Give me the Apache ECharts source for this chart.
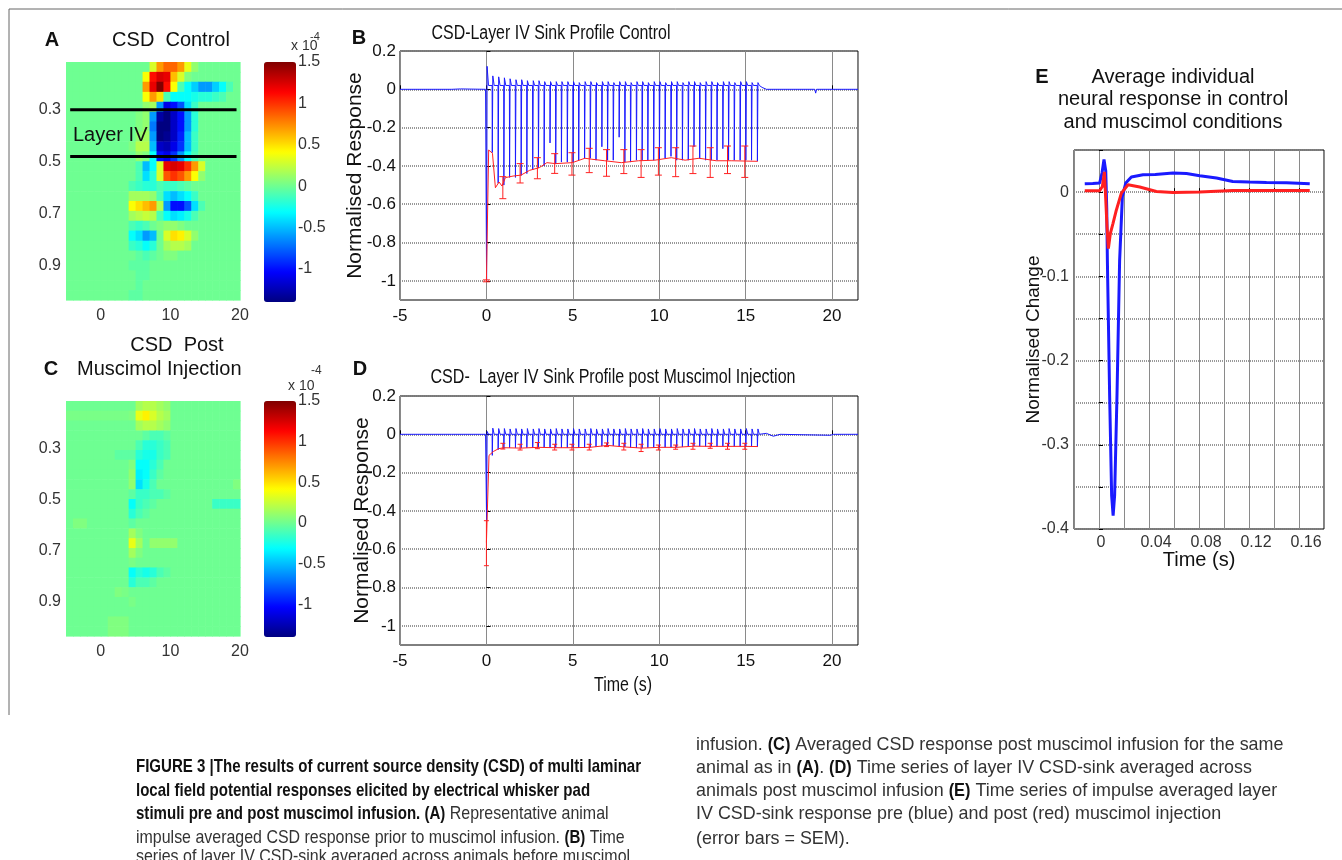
<!DOCTYPE html>
<html><head><meta charset="utf-8">
<script src="https://cdn.jsdelivr.net/npm/echarts@6/dist/echarts.min.js"></script>
<style>html,body{margin:0;padding:0;background:#fff}#c{width:1342px;height:860px}</style>
</head><body><div id="c"></div>
<script>
// ---------------- DATA ----------------
const heatTimeStarts = [-5,-4,-3,-2,-1,0,1,2,3,4,5,6,7,8,9,10,11,12,13,14,15,16,17,18,19];
const heatDepthTops = [0.116,0.154,0.192,0.231,0.269,0.307,0.345,0.383,0.422,0.460,0.498,0.536,0.574,0.613,0.651,0.689,0.727,0.765,0.804,0.842,0.880,0.918,0.956,0.994];
const heatColWidth = 1;
const heatRowHeight = 0.0382;
const heatTimeTicks = [0,10,20];
const depthTicks = [0.3,0.5,0.7,0.9];
const colorbarTicks = [-1,-0.5,0,0.5,1,1.5];
const colorbarRange = [-1.4,1.5];
const layerIVBounds = [0.3,0.48];
const layerIVLineSpan = [-4.4,19.5];

const csdControl = [
[0,0,0,0,0,0,0,0,0,0,0,0,0.3,0.7,0.85,0.85,0.7,0.35,0.1,0,0,0,0,0,0],
[0,0,0,0,0,0,0,0,0,0,0,0.4,1.1,1.25,1.2,0.6,0.3,0.05,0,0,0,0,0,0,0],
[0,0,0,0,0,0,0,0,0,0,0,0.7,1.2,1.5,1.1,0.4,-0.1,-0.3,-0.45,-0.6,-0.6,-0.45,-0.3,-0.1,0],
[0,0,0,0,0,0,0,0,0,0,0,0.4,0.7,0.5,-0.1,-0.3,-0.3,-0.3,-0.25,-0.2,-0.2,-0.15,-0.1,0,0],
[0,0,0,0,0,0,0,0,0,0,0,0.1,0.15,-0.6,-1.1,-1.0,-0.8,-0.4,-0.15,0,0,0,0,0,0],
[0,0,0,0,0,0,0,0,0,0,0.05,0.1,-0.6,-1.3,-1.4,-1.2,-1.0,-0.6,-0.2,0,0,0,0,0,0],
[0,0,0,0,0,0,0,0,0,0,0.05,0.1,-0.7,-1.4,-1.4,-1.2,-1.0,-0.6,-0.2,0,0,0,0,0,0],
[0,0,0,0,0,0,0,0,0,0,0.1,0.15,-0.6,-1.4,-1.35,-1.2,-0.95,-0.5,-0.15,0,0,0,0,0,0],
[0,0,0,0,0,0,0,0,0,0.05,0.2,0.2,-0.5,-1.2,-1.25,-1.1,-0.9,-0.5,-0.15,0,0,0,0,0,0],
[0,0,0,0,0,0,0,0,0,0,0.1,0.05,-0.3,-1.0,-1.1,-0.9,-0.6,-0.3,-0.1,0,0,0,0,0,0],
[0,0,0,0,0,0,0,0,0,0,-0.1,-0.5,-0.3,0.3,1.2,1.25,1.2,1.0,0.7,0.3,0,0,0,0,0],
[0,0,0,0,0,0,0,0,0,0,-0.1,-0.4,-0.2,0.3,0.9,1.0,0.9,0.7,0.4,0.1,0,0,0,0,0],
[0,0,0,0,0,0,0,0,0,-0.1,-0.15,-0.2,-0.2,-0.1,-0.15,-0.15,-0.1,-0.05,0,0,0,0,0,0,0],
[0,0,0,0,0,0,0,0,0,0.15,0.15,0.15,0.1,-0.1,-0.4,-0.5,-0.4,-0.3,-0.15,0,0,0,0,0,0],
[0,0,0,0,0,0,0,0,0,0.4,0.5,0.6,0.7,0.2,-0.6,-1.0,-1.0,-0.8,-0.4,-0.1,0,0,0,0,0],
[0,0,0,0,0,0,0,0,0,0.15,0.2,0.25,0.2,-0.1,-0.3,-0.4,-0.35,-0.25,-0.1,0,0,0,0,0,0],
[0,0,0,0,0,0,0,0,0,-0.1,-0.15,-0.1,0,0.05,0.1,0.1,0.05,0,0,0,0,0,0,0,0],
[0,0,0,0,0,0,0,0,0,-0.3,-0.4,-0.6,-0.5,0,0.3,0.5,0.45,0.3,0.1,0,0,0,0,0,0],
[0,0,0,0,0,0,0,0,0,-0.15,-0.2,-0.3,-0.2,0,0.15,0.2,0.2,0.15,0,0,0,0,0,0,0],
[0,0,0,0,0,0,0,0,0,0,-0.05,-0.1,-0.05,0,0.05,0.05,0,0,0,0,0,0,0,0,0],
[0,0,0,0,0,0,0,0,0,-0.05,-0.05,-0.05,0,0,0,0,0,0,0,0,0,0,0,0,0],
[0,0,0,0,0,0,0,0,0,0,-0.05,-0.05,0,0,0,0,0,0,0,0,0,0,0,0,0],
[0,0,0,0,0,0,0,0,0,0,-0.05,0,0,0,0,0,0,0,0,0,0,0,0,0,0],
[0,0,0,0,0,0,0,0,0,-0.05,-0.05,0,0,0,0,0,0,0,0,0,0,0,0,0,0]
];

const csdMuscimol = [
[0,0,0,0,0,0,0,0,0,0,0.15,0.2,0.2,0.15,0.1,0,0,0,0,0,0,0,0,0,0],
[0.03,0.03,0.03,0.03,0.03,0.03,0.03,0.03,0.03,0.05,0.35,0.45,0.3,0.2,0.15,0,0,0,0,0,0,0,0,0,0],
[0,0,0,0,0,0,0,0,0,0,0.15,0.2,0.2,0.15,0.1,0,0,0,0,0,0,0,0,0,0],
[0,0,0,0,0,0,0,0,0,0,0,-0.05,-0.1,-0.1,-0.05,0,0,0,0,0,0,0,0,0,0],
[0,0,0,0,0,0,0,0,0,0,-0.1,-0.2,-0.2,-0.15,-0.1,0,0,0,0,0,0,0,0,0,0],
[0,0,0,0,0,0,0,-0.05,-0.05,-0.05,-0.2,-0.25,-0.25,-0.15,-0.1,0,0,0,0,0,0,0,0,0,0],
[0,0,0,0,0,0,0,0,0,0.05,-0.3,-0.3,-0.2,-0.1,0,0,0,0,0,0,0,0,0,0,0],
[0,0,0,0,0,0,0,0,0,0.1,-0.35,-0.3,-0.15,-0.05,0,0,0,0,0,0,0,0,0,0,0],
[0,0,0,0,0,0,0,0,0,0.1,-0.4,-0.25,-0.1,0,0,0,0,0,0,0,0,0,0,0,0.05],
[0,0,0,0,0,0,0,0,0,-0.05,-0.15,-0.15,-0.1,-0.1,-0.05,0,0,0,0,0,0,0,0,0,0],
[0,0,0,0,0,0,0,0,0,-0.3,-0.15,-0.1,-0.05,0,0,0,0,0,0,0,0,-0.15,-0.15,-0.15,-0.15],
[0,0,0,0,0,0,0,0,0,-0.2,-0.1,-0.05,0,0,0,0,0,0,0,0,0,0,0,0,0],
[0,0.05,0.05,0,0,0,0,0,0,-0.05,0,0,0,0,0,0,0,0,0,0,0,0,0,0,0],
[0,0,0,0,0,0,0,0,0,0.15,0.05,0,0,0,0,0,0,0,0,0,0,0,0,0,0],
[0,0,0,0,0,0,0,0,0,0.35,0.15,0,0.1,0.1,0.1,0.1,0,0,0,0,0,0,0,0,0],
[0,0,0,0,0,0,0,0,0,0.15,0.05,0,0,0,0,0,0,0,0,0,0,0,0,0,0],
[0,0,0,0,0,0,0,0,0,0.03,0,0,0,0,0,0,0,0,0,0,0,0,0,0,0],
[0,0,0,0,0,0,0,0,0,-0.3,-0.2,-0.25,-0.2,-0.1,-0.05,0,0,0,0,0,0,0,0,0,0],
[0,0,0,0,0,0,0,0,0,-0.2,-0.1,-0.1,-0.05,0,0,0,0,0,0,0,0,0,0,0,0],
[0,0,0,0,0,0,0,0.05,0.03,0,0,0,0,0,0,0,0,0,0,0,0,0,0,0,0],
[0,0,0,0,0,0,0,0,0,0.03,0,0,0,0,0,0,0,0,0,0,0,0,0,0,0],
[0,0,0,0,0,0,0,0,0,0,0,0,0,0,0,0,0,0,0,0,0,0,0,0,0],
[0,0,0,0,0,0,0.05,0.05,0.05,0,0,0,0,0,0,0,0,0,0,0,0,0,0,0,0],
[0,0,0,0,0,0,0.05,0.05,0.05,0,0,0,0,0,0,0,0,0,0,0,0,0,0,0,0]
];

const seriesYTicks = [-1,-0.8,-0.6,-0.4,-0.2,0,0.2];
const pulseTimes = [0,0.33,0.67,1,1.33,1.67,2,2.33,2.67,3,3.33,3.67,4,4.33,4.67,5,5.33,5.67,6,6.33,6.67,7,7.33,7.67,8,8.33,8.67,9,9.33,9.67,10,10.33,10.67,11,11.33,11.67,12,12.33,12.67,13,13.33,13.67,14,14.33,14.67,15,15.33,15.67];
const controlPulseMin = [-1.0,-0.33,-0.49,-0.5,-0.46,-0.46,-0.45,-0.44,-0.42,-0.41,-0.4,-0.28,
 -0.39,-0.38,-0.38,-0.38,-0.37,-0.36,-0.36,-0.37,-0.3,-0.37,-0.37,-0.25,
 -0.38,-0.38,-0.37,-0.37,-0.37,-0.37,-0.37,-0.36,-0.35,-0.37,-0.37,-0.37,
 -0.3,-0.36,-0.37,-0.37,-0.37,-0.31,-0.37,-0.37,-0.37,-0.37,-0.37,-0.375];
const controlPulsePeak = [0.12,0.07,0.065,0.06,0.055,0.05,0.05,0.045,0.045,0.045,0.04,0.04,
 0.04,0.04,0.04,0.04,0.035,0.04,0.04,0.035,0.04,0.04,0.035,0.04,
 0.04,0.035,0.04,0.04,0.035,0.04,0.04,0.035,0.04,0.04,0.035,0.04,
 0.04,0.035,0.04,0.04,0.035,0.04,0.04,0.035,0.04,0.04,0.035,0.035];
const controlRestLevel = 0.02;
const controlBaselinePre = [[-5,0],[-2,0],[-1.5,0.002],[-0.05,0]];
const controlBaselinePost = [[15.8,0.02],[15.95,0.01],[16.2,0],[19.0,0],[19.05,-0.02],[19.1,0],[21.5,0]];
const controlSinkMean = [[0,-1],[0.13,-0.317],[0.35,-0.334],[0.52,-0.514],[0.73,-0.484],[0.9,-0.505],[1.1,-0.461],[1.54,-0.453],[2.0,-0.448],[2.5,-0.423],[3.06,-0.409],[3.5,-0.383],[4.0,-0.388],[4.97,-0.383],[5.7,-0.36],[6.1,-0.365],[6.85,-0.373],[7.8,-0.383],[8.8,-0.373],[9.75,-0.37],[10.7,-0.357],[11.5,-0.37],[12.3,-0.36],[13.3,-0.373],[14.2,-0.373],[15.7,-0.376]];
const errTimes = [0,0.95,1.95,2.95,3.95,4.95,5.95,6.95,7.95,8.95,9.95,10.95,11.95,12.95,13.95,14.95];
const controlErrLow = [-1.005,-0.571,-0.489,-0.467,-0.439,-0.448,-0.435,-0.454,-0.44,-0.46,-0.448,-0.456,-0.44,-0.46,-0.44,-0.46];
const controlErrHigh = [-0.995,-0.456,-0.388,-0.357,-0.336,-0.331,-0.308,-0.315,-0.315,-0.315,-0.305,-0.305,-0.296,-0.305,-0.296,-0.296];

const muscimolPulseMin = [-0.45,-0.11,-0.08,-0.075,-0.07,-0.07,-0.072,-0.07,-0.07,-0.068,-0.068,-0.07,
 -0.07,-0.07,-0.07,-0.07,-0.07,-0.07,-0.068,-0.065,-0.062,-0.058,-0.06,-0.064,
 -0.066,-0.068,-0.07,-0.072,-0.07,-0.068,-0.068,-0.068,-0.068,-0.068,-0.066,-0.064,
 -0.062,-0.062,-0.063,-0.063,-0.063,-0.063,-0.063,-0.063,-0.063,-0.063,-0.063,-0.064];
const muscimolPulsePeak = [0.015,0.032,0.03,0.03,0.028,0.03,0.028,0.03,0.028,0.03,0.028,0.028,
 0.03,0.028,0.028,0.03,0.028,0.028,0.03,0.028,0.028,0.03,0.028,0.028,
 0.03,0.028,0.028,0.03,0.028,0.028,0.03,0.028,0.028,0.03,0.028,0.028,
 0.03,0.028,0.028,0.03,0.028,0.028,0.03,0.028,0.028,0.03,0.028,0.028];
const muscimolRestLevel = 0.0;
const muscimolBaselinePre = [[-5,0],[-2,0],[-0.05,0]];
const muscimolBaselinePost = [[15.8,0],[16.2,0.005],[16.6,-0.01],[17,0],[19.9,-0.005],[20.1,0],[21.5,0]];
const muscimolSinkMean = [[0,-0.565],[0.15,-0.11],[0.4,-0.09],[0.7,-0.075],[1,-0.07],[2,-0.072],[3,-0.068],[4,-0.07],[5,-0.07],[6,-0.068],[7,-0.058],[8,-0.066],[9,-0.072],[10,-0.068],[11,-0.068],[12,-0.062],[13,-0.063],[14,-0.063],[15,-0.063],[15.7,-0.064]];
const muscimolErrLow = [-0.686,-0.077,-0.082,-0.075,-0.082,-0.082,-0.082,-0.064,-0.082,-0.09,-0.082,-0.078,-0.078,-0.073,-0.078,-0.078];
const muscimolErrHigh = [-0.451,-0.047,-0.052,-0.043,-0.052,-0.052,-0.052,-0.045,-0.047,-0.052,-0.056,-0.056,-0.047,-0.047,-0.047,-0.047];

const impulseControl = [[-0.0114,0.0099],[-0.005,0.0102],[0.0005,0.0107],[0.0024,0.0227],[0.004,0.0387],[0.0054,0.025],[0.0062,-0.02],[0.0067,-0.081],[0.0085,-0.241],[0.0101,-0.36],[0.0113,-0.384],[0.0125,-0.36],[0.0144,-0.241],[0.0165,-0.081],[0.0187,-0.005],[0.0214,0.0107],[0.0259,0.018],[0.0352,0.0207],[0.045,0.021],[0.0592,0.0227],[0.07,0.022],[0.0806,0.0195],[0.094,0.0167],[0.107,0.0127],[0.12,0.012],[0.134,0.0115],[0.15,0.011],[0.1686,0.0099]];
const impulseMuscimol = [[-0.0114,0.0016],[0.0005,0.0016],[0.0027,0.0067],[0.0043,0.024],[0.0054,-0.009],[0.0064,-0.041],[0.0075,-0.067],[0.0091,-0.049],[0.0112,-0.037],[0.0139,-0.0212],[0.0179,-0.0012],[0.0232,0.0087],[0.0326,0.006],[0.0459,0.0008],[0.0592,-0.0004],[0.0806,0.0],[0.107,0.002],[0.1686,0.002]];

// ---------------- BUILD ----------------
const SANS = "'Liberation Sans', Arial, Helvetica, sans-serif";
const JET = ['#000080','#0000ff','#0080ff','#00ffff','#80ff80','#ffff00','#ff8000','#ff0000','#800000'];
const BLUE = '#1a1aff', RED = '#ff2020';

const mctx = document.createElement('canvas').getContext('2d');
function segWidth(str, size, weight) { mctx.font = 'normal ' + weight + ' ' + size + 'px ' + SANS; return mctx.measureText(str).width; }

function heatData(m) {
  const out = [];
  m.forEach((row, r) => row.forEach((v, c) => out.push([heatTimeStarts[c], heatDepthTops[r], v])));
  return out;
}
function pulseTrace(times, mins, peaks, rest, pre, post) {
  const pts = pre.slice();
  times.forEach((t, i) => {
    pts.push([t, i === 0 ? 0 : rest], [t + 0.01, mins[i]], [t + 0.04, peaks[i]], [t + 0.12, rest]);
  });
  return pts.concat(post);
}
const depthMin = heatDepthTops[0];
const depthMax = heatDepthTops[heatDepthTops.length - 1] + heatRowHeight;

function heatSeries(idx, m) {
  return {
    type: 'custom', xAxisIndex: idx, yAxisIndex: idx, data: heatData(m),
    encode: { x: 0, y: 1 },
    renderItem(params, api) {
      const x0 = api.value(0), y0 = api.value(1);
      const p0 = api.coord([x0, y0]);
      const p1 = api.coord([x0 + heatColWidth, y0 + heatRowHeight]);
      return { type: 'rect', shape: { x: Math.min(p0[0], p1[0]), y: Math.min(p0[1], p1[1]), width: Math.abs(p1[0] - p0[0]) + 0.6, height: Math.abs(p1[1] - p0[1]) + 0.6 }, style: { fill: api.visual('color') } };
    }
  };
}
function errSeries(idx, times, lows, highs, cap) {
  return {
    type: 'custom', xAxisIndex: idx, yAxisIndex: idx, z: 4,
    data: times.map((t, i) => [t, lows[i], highs[i]]),
    encode: { x: 0, y: [1, 2] },
    renderItem(params, api) {
      const x = api.value(0);
      const lo = api.coord([x, api.value(1)]), hi = api.coord([x, api.value(2)]);
      const st = { stroke: RED, lineWidth: 1 };
      return { type: 'group', children: [
        { type: 'line', shape: { x1: lo[0], y1: lo[1], x2: hi[0], y2: hi[1] }, style: st },
        { type: 'line', shape: { x1: lo[0] - cap, y1: lo[1], x2: lo[0] + cap, y2: lo[1] }, style: st },
        { type: 'line', shape: { x1: hi[0] - cap, y1: hi[1], x2: hi[0] + cap, y2: hi[1] }, style: st }
      ]};
    }
  };
}
function lineSeries(idx, data, color, width, z) {
  return { type: 'line', xAxisIndex: idx, yAxisIndex: idx, data, showSymbol: false, symbol: 'none', z: z || 2,
    lineStyle: { color, width }, itemStyle: { color }, silent: true };
}

const grids = [
  { left: 66, top: 62, width: 174, height: 238 },
  { left: 66, top: 401, width: 174, height: 235 },
  { left: 400, top: 51, width: 458, height: 249, show: true, borderColor: '#000', borderWidth: 1 },
  { left: 400, top: 396, width: 458, height: 249, show: true, borderColor: '#000', borderWidth: 1 },
  { left: 1074, top: 150, width: 250, height: 379, show: true, borderColor: '#000', borderWidth: 1 },
  { left: 264, top: 62, width: 32, height: 240 },
  { left: 264, top: 401, width: 32, height: 236 }
];
const noLine = { show: false };
const lbl = (size, color, margin) => ({ fontSize: size, color, margin, fontFamily: SANS });
const heatX = gi => ({ gridIndex: gi, type: 'value', min: -5, max: 20, axisLine: noLine, axisTick: noLine, splitLine: noLine,
  axisLabel: Object.assign(lbl(16, '#333', 8), { customValues: heatTimeTicks }) });
const heatY = gi => ({ gridIndex: gi, type: 'value', inverse: true, min: depthMin, max: depthMax, axisLine: noLine, axisTick: noLine, splitLine: noLine,
  axisLabel: Object.assign(lbl(16, '#333', 5), { customValues: depthTicks }) });
const tsX = gi => ({ gridIndex: gi, type: 'value', min: -5, max: 21.5, interval: 5, axisLine: noLine,
  axisTick: { inside: true, length: 4, lineStyle: { color: '#000' } },
  splitLine: { show: true, lineStyle: { color: '#8a8a8a', width: 1 } },
  axisLabel: Object.assign(lbl(17, '#111', 8), { showMaxLabel: false }) });
const tsY = (gi, gap) => ({ gridIndex: gi, type: 'value', min: -1.1, max: 0.2, axisLine: noLine,
  axisTick: { inside: true, length: 4, customValues: seriesYTicks, lineStyle: { color: '#000' } },
  splitLine: { show: true, lineStyle: { color: '#777', width: 1.5, type: [1, 1] } },
  axisLabel: Object.assign(lbl(17, '#111', 4), { customValues: seriesYTicks }),
  name: 'Normalised Response', nameLocation: 'middle', nameRotate: 90, nameGap: gap, nameMoveOverlap: false,
  nameTextStyle: { fontSize: 21, color: '#111', fontFamily: SANS } });
const cbX = gi => ({ gridIndex: gi, type: 'value', min: 0, max: 1, show: false });
const cbY = gi => ({ gridIndex: gi, type: 'value', position: 'right', min: colorbarRange[0], max: colorbarRange[1], axisLine: noLine, axisTick: noLine, splitLine: noLine,
  axisLabel: Object.assign(lbl(16, '#333', 2), { customValues: colorbarTicks }) });

const xAxes = [heatX(0), heatX(1), tsX(2), tsX(3),
  { gridIndex: 4, type: 'value', min: -0.02, max: 0.18, interval: 0.02, axisLine: noLine,
    axisTick: { inside: true, length: 4, lineStyle: { color: '#000' } },
    splitLine: { show: true, lineStyle: { color: '#8a8a8a', width: 1 } },
    axisLabel: Object.assign(lbl(16, '#333', 6), { showMinLabel: false, showMaxLabel: false,
      formatter: v => { const k = Math.round(v * 100); if (k < 0 || k % 4 !== 0) return ''; return k === 0 ? '{z|0}' : '{n|' + (k / 100).toFixed(2) + '}'; },
      rich: { z: { fontSize: 16, color: '#333', fontFamily: SANS, padding: [0, 0, 0, 4] }, n: { fontSize: 16, color: '#333', fontFamily: SANS, padding: [0, 0, 0, 14] } } }),
    name: 'Time (s)', nameLocation: 'middle', nameGap: 21, nameMoveOverlap: false, nameTextStyle: { fontSize: 20, color: '#111', fontFamily: SANS } },
  cbX(5), cbX(6)];
const yAxes = [heatY(0), heatY(1), tsY(2, 34), tsY(3, 27),
  { gridIndex: 4, type: 'value', min: -0.4, max: 0.05, interval: 0.05, axisLine: noLine,
    axisTick: { inside: true, length: 4, lineStyle: { color: '#000' } },
    splitLine: { show: true, lineStyle: { color: '#777', width: 1.5, type: [1, 1] } },
    axisLabel: Object.assign(lbl(16, '#333', 5), {
      formatter: v => { const k = Math.round(v * 100); return (k % 10 === 0 && k <= 0) ? (k === 0 ? '0' : (k / 100).toFixed(1)) : ''; } }),
    name: 'Normalised Change', nameLocation: 'middle', nameRotate: 90, nameGap: 31, nameMoveOverlap: false, nameTextStyle: { fontSize: 19, color: '#111', fontFamily: SANS } },
  cbY(5), cbY(6)];

const series = [
  heatSeries(0, csdControl),
  heatSeries(1, csdMuscimol),
  lineSeries(0, [[layerIVLineSpan[0], layerIVBounds[0]], [layerIVLineSpan[1], layerIVBounds[0]]], '#000', 3, 5),
  lineSeries(0, [[layerIVLineSpan[0], layerIVBounds[1]], [layerIVLineSpan[1], layerIVBounds[1]]], '#000', 3, 5),
  lineSeries(2, pulseTrace(pulseTimes, controlPulseMin, controlPulsePeak, controlRestLevel, controlBaselinePre, controlBaselinePost), BLUE, 1, 2),
  lineSeries(2, controlSinkMean, RED, 1, 3),
  errSeries(2, errTimes, controlErrLow, controlErrHigh, 3.5),
  lineSeries(3, pulseTrace(pulseTimes, muscimolPulseMin, muscimolPulsePeak, muscimolRestLevel, muscimolBaselinePre, muscimolBaselinePost), BLUE, 1, 2),
  lineSeries(3, muscimolSinkMean, RED, 1, 3),
  errSeries(3, errTimes, muscimolErrLow, muscimolErrHigh, 2.5),
  lineSeries(4, impulseControl, BLUE, 3, 2),
  lineSeries(4, impulseMuscimol, RED, 3, 3)
];

function txt(x, y, text, o, sx) {
  const st = Object.assign({ text, fill: '#111', fontSize: 20, fontFamily: SANS, fontWeight: 'normal',
    align: 'center', verticalAlign: 'middle', textAlign: 'center', textVerticalAlign: 'middle' }, o || {});
  if (st.align !== 'center') st.textAlign = st.align;
  return { type: 'text', x, y, scaleX: sx || 1, silent: true, z: 100, style: st };
}
function narrow(cx, y, text, width, size) {
  return txt(cx, y, text, { fontSize: size }, width / segWidth(text, size, 'normal'));
}
// caption: condensed type emulated by horizontal scaling
const CAP = 19;
const capLeftScale = { reg: 0.84, bold: 0.792 };
const capRightScale = { reg: 0.942, bold: 0.86 };
function capLine(x, y, text, sc) {
  const segs = []; let last = 0, m; const re = /\{b\|([^}]*)\}/g;
  while ((m = re.exec(text))) { if (m.index > last) segs.push([text.slice(last, m.index), false]); segs.push([m[1], true]); last = re.lastIndex; }
  if (last < text.length) segs.push([text.slice(last), false]);
  const els = []; let cx = x;
  segs.forEach(([s, bold]) => {
    const k = bold ? sc.bold : sc.reg, w = bold ? 'bold' : 'normal';
    els.push(txt(cx, y, s, { align: 'left', fontSize: CAP, fontWeight: w, fill: bold ? '#111' : '#333' }, k));
    cx += segWidth(s, CAP, w) * k;
  });
  return els;
}
const graphics = [
  { type: 'line', silent: true, shape: { x1: 9, y1: 9, x2: 1342, y2: 9 }, style: { stroke: '#666', lineWidth: 1 } },
  { type: 'line', silent: true, shape: { x1: 9, y1: 9, x2: 9, y2: 715 }, style: { stroke: '#666', lineWidth: 1 } },
  txt(52, 40, 'A', { fontWeight: 'bold' }),
  txt(171, 40, 'CSD  Control'),
  txt(291, 46, 'x 10', { align: 'left', fontSize: 14, fill: '#333' }),
  txt(310, 37, '-4', { align: 'left', fontSize: 11, fill: '#333' }),
  txt(73, 135, 'Layer IV', { align: 'left', fontSize: 20 }),
  txt(177, 345, 'CSD  Post'),
  txt(51, 369, 'C', { fontWeight: 'bold' }),
  txt(77, 369, 'Muscimol Injection', { align: 'left' }),
  txt(288, 386, 'x 10', { align: 'left', fontSize: 14, fill: '#333' }),
  txt(311, 371, '-4', { align: 'left', fontSize: 12, fill: '#333' }),
  txt(359, 38, 'B', { fontWeight: 'bold' }),
  narrow(551, 33, 'CSD-Layer IV Sink Profile Control', 239, 20),
  txt(360, 369, 'D', { fontWeight: 'bold' }),
  narrow(613, 377, 'CSD-  Layer IV Sink Profile post Muscimol Injection', 365, 20),
  narrow(623, 685, 'Time (s)', 58, 21),
  txt(1042, 77, 'E', { fontWeight: 'bold' }),
  txt(1173, 77, 'Average individual'),
  txt(1173, 99.5, 'neural response in control'),
  txt(1173, 122, 'and muscimol conditions')
].concat(
  capLine(136, 767, '{b|FIGURE 3 |The results of current source density (CSD) of multi laminar}', capLeftScale),
  capLine(136, 790.5, '{b|local field potential responses elicited by electrical whisker pad}', capLeftScale),
  capLine(136, 814, '{b|stimuli pre and post muscimol infusion. (A)} Representative animal', capLeftScale),
  capLine(136, 837.5, 'impulse averaged CSD response prior to muscimol infusion. {b|(B)} Time', capLeftScale),
  capLine(136, 857, 'series of layer IV CSD-sink averaged across animals before muscimol', capLeftScale),
  capLine(696, 745, 'infusion. {b|(C)} Averaged CSD response post muscimol infusion for the same', capRightScale),
  capLine(696, 768, 'animal as in {b|(A)}. {b|(D)} Time series of layer IV CSD-sink averaged across', capRightScale),
  capLine(696, 791, 'animals post muscimol infusion {b|(E)} Time series of impulse averaged layer', capRightScale),
  capLine(696, 814, 'IV CSD-sink response pre (blue) and post (red) muscimol injection', capRightScale),
  capLine(696, 839, '(error bars = SEM).', capRightScale)
);

const chart = echarts.init(document.getElementById('c'), null, { renderer: 'canvas' });
chart.setOption({
  animation: false,
  backgroundColor: '#fff',
  textStyle: { fontFamily: SANS },
  grid: grids,
  xAxis: xAxes,
  yAxis: yAxes,
  visualMap: [
    { type: 'continuous', seriesIndex: 0, dimension: 2, min: colorbarRange[0], max: colorbarRange[1], calculable: false, show: true,
      left: 264, top: 62, itemWidth: 32, itemHeight: 240, padding: 0, inRange: { color: JET }, hoverLink: false },
    { type: 'continuous', seriesIndex: 1, dimension: 2, min: colorbarRange[0], max: colorbarRange[1], calculable: false, show: true,
      left: 264, top: 401, itemWidth: 32, itemHeight: 236, padding: 0, inRange: { color: JET }, hoverLink: false }
  ],
  graphic: graphics,
  series
});
</script></body></html>
